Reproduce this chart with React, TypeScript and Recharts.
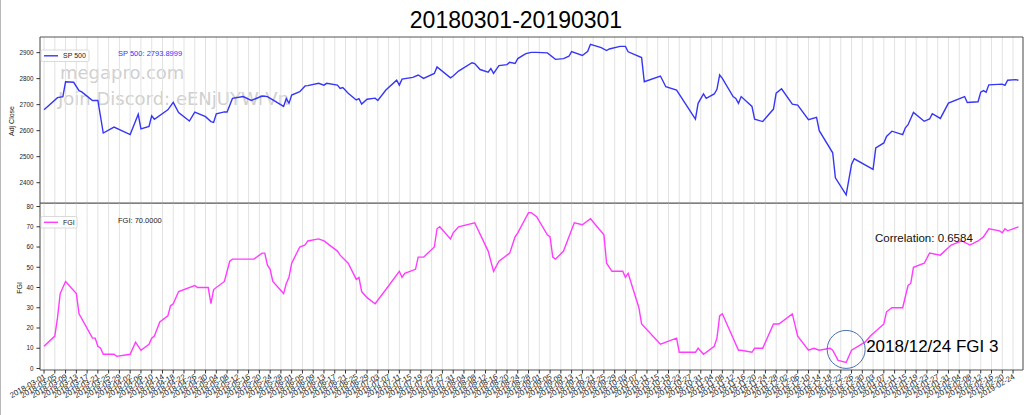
import React from 'react';
import { LineChart, Line, XAxis, YAxis, CartesianGrid, ReferenceDot, ReferenceArea } from 'recharts';

// S&P 500 adjusted close
const spDates = [
  '2018-03-01', '2018-03-06', '2018-03-08', '2018-03-09', '2018-03-12', '2018-03-14', '2018-03-15', '2018-03-19',
  '2018-03-21', '2018-03-23', '2018-03-27', '2018-04-02', '2018-04-05', '2018-04-06', '2018-04-09', '2018-04-10',
  '2018-04-11', '2018-04-16', '2018-04-18', '2018-04-20', '2018-04-24', '2018-04-26', '2018-04-30', '2018-05-02',
  '2018-05-03', '2018-05-04', '2018-05-07', '2018-05-08', '2018-05-10', '2018-05-14', '2018-05-17', '2018-05-21',
  '2018-05-23', '2018-05-25', '2018-05-29', '2018-05-30', '2018-05-31', '2018-06-01', '2018-06-04', '2018-06-06',
  '2018-06-07', '2018-06-11', '2018-06-13', '2018-06-14', '2018-06-18', '2018-06-19', '2018-06-20', '2018-06-22',
  '2018-06-25', '2018-06-26', '2018-06-27', '2018-06-29', '2018-07-02', '2018-07-03', '2018-07-06', '2018-07-10',
  '2018-07-11', '2018-07-12', '2018-07-16', '2018-07-18', '2018-07-20', '2018-07-24', '2018-07-25', '2018-07-30',
  '2018-07-31', '2018-08-02', '2018-08-07', '2018-08-08', '2018-08-10', '2018-08-13', '2018-08-14', '2018-08-15',
  '2018-08-17', '2018-08-20', '2018-08-21', '2018-08-23', '2018-08-24', '2018-08-27', '2018-08-29', '2018-08-31',
  '2018-09-04', '2018-09-07', '2018-09-10', '2018-09-12', '2018-09-13', '2018-09-17', '2018-09-19', '2018-09-20',
  '2018-09-24', '2018-09-26', '2018-09-27', '2018-10-01', '2018-10-03', '2018-10-04', '2018-10-09', '2018-10-10',
  '2018-10-16', '2018-10-18', '2018-10-22', '2018-10-29', '2018-10-30', '2018-11-01', '2018-11-02', '2018-11-05',
  '2018-11-06', '2018-11-07', '2018-11-08', '2018-11-12', '2018-11-13', '2018-11-14', '2018-11-15', '2018-11-19',
  '2018-11-20', '2018-11-23', '2018-11-27', '2018-11-28', '2018-11-30', '2018-12-04', '2018-12-06', '2018-12-10',
  '2018-12-13', '2018-12-14', '2018-12-19', '2018-12-20', '2018-12-24', '2018-12-26', '2018-12-27', '2019-01-03',
  '2019-01-04', '2019-01-07', '2019-01-08', '2019-01-10', '2019-01-14', '2019-01-15', '2019-01-16', '2019-01-18',
  '2019-01-22', '2019-01-24', '2019-01-25', '2019-01-28', '2019-01-31', '2019-02-06', '2019-02-07', '2019-02-11',
  '2019-02-12', '2019-02-13', '2019-02-14', '2019-02-15', '2019-02-20', '2019-02-21', '2019-02-22', '2019-02-25',
  '2019-02-26',
];
const spClose = [
  2680, 2727, 2731, 2788, 2786, 2754, 2749, 2716,
  2716, 2591, 2614, 2585, 2663, 2607, 2616, 2657,
  2644, 2680, 2709, 2670, 2637, 2671, 2654, 2635,
  2632, 2665, 2672, 2672, 2724, 2731, 2716, 2733,
  2731, 2718, 2693, 2724, 2705, 2737, 2750, 2772,
  2773, 2782, 2775, 2782, 2775, 2762, 2766, 2744,
  2718, 2723, 2702, 2721, 2725, 2716, 2756, 2794,
  2775, 2798, 2805, 2814, 2801, 2820, 2845, 2803,
  2810, 2829, 2861, 2858, 2835, 2825, 2839, 2820,
  2850, 2854, 2863, 2858, 2877, 2896, 2901, 2901,
  2899, 2874, 2877, 2886, 2904, 2889, 2905, 2932,
  2919, 2908, 2914, 2924, 2924, 2903, 2881, 2788,
  2810, 2769, 2756, 2644, 2705, 2741, 2724, 2741,
  2759, 2814, 2801, 2731, 2724, 2705, 2731, 2693,
  2644, 2635, 2683, 2744, 2761, 2702, 2698, 2642,
  2651, 2600, 2515, 2419, 2353, 2470, 2492, 2451,
  2534, 2553, 2578, 2598, 2585, 2611, 2623, 2670,
  2636, 2645, 2665, 2647, 2706, 2731, 2708, 2711,
  2748, 2754, 2748, 2776, 2779, 2774, 2794, 2796,
  2793.8999,
];

// Fear & Greed index
const fgiDates = [
  '2018-03-01', '2018-03-05', '2018-03-06', '2018-03-07', '2018-03-09', '2018-03-13', '2018-03-14', '2018-03-19',
  '2018-03-20', '2018-03-21', '2018-03-22', '2018-03-23', '2018-03-27', '2018-03-28', '2018-04-02', '2018-04-04',
  '2018-04-06', '2018-04-09', '2018-04-10', '2018-04-11', '2018-04-13', '2018-04-16', '2018-04-17', '2018-04-18',
  '2018-04-20', '2018-04-26', '2018-04-27', '2018-05-01', '2018-05-02', '2018-05-03', '2018-05-07', '2018-05-09',
  '2018-05-10', '2018-05-18', '2018-05-21', '2018-05-22', '2018-05-23', '2018-05-24', '2018-05-25', '2018-05-29',
  '2018-05-30', '2018-05-31', '2018-06-01', '2018-06-04', '2018-06-06', '2018-06-07', '2018-06-11', '2018-06-13',
  '2018-06-18', '2018-06-19', '2018-06-22', '2018-06-25', '2018-06-26', '2018-06-27', '2018-06-29', '2018-07-02',
  '2018-07-06', '2018-07-11', '2018-07-12', '2018-07-13', '2018-07-17', '2018-07-18', '2018-07-20', '2018-07-24',
  '2018-07-25', '2018-07-26', '2018-07-30', '2018-07-31', '2018-08-02', '2018-08-08', '2018-08-13', '2018-08-15',
  '2018-08-17', '2018-08-21', '2018-08-23', '2018-08-24', '2018-08-28', '2018-08-29', '2018-08-31', '2018-09-04',
  '2018-09-05', '2018-09-06', '2018-09-07', '2018-09-10', '2018-09-14', '2018-09-17', '2018-09-20', '2018-09-25',
  '2018-09-26', '2018-09-28', '2018-10-02', '2018-10-03', '2018-10-04', '2018-10-08', '2018-10-09', '2018-10-16',
  '2018-10-22', '2018-10-23', '2018-10-29', '2018-10-30', '2018-11-01', '2018-11-05', '2018-11-06', '2018-11-07',
  '2018-11-08', '2018-11-14', '2018-11-15', '2018-11-19', '2018-11-20', '2018-11-23', '2018-11-27', '2018-11-29',
  '2018-12-04', '2018-12-06', '2018-12-10', '2018-12-12', '2018-12-14', '2018-12-18', '2018-12-19', '2018-12-21',
  '2018-12-24', '2018-12-26', '2018-12-31', '2019-01-02', '2019-01-07', '2019-01-08', '2019-01-10', '2019-01-14',
  '2019-01-16', '2019-01-17', '2019-01-18', '2019-01-22', '2019-01-24', '2019-01-28', '2019-02-01', '2019-02-05',
  '2019-02-08', '2019-02-11', '2019-02-13', '2019-02-15', '2019-02-19', '2019-02-20', '2019-02-21', '2019-02-22',
  '2019-02-26',
];
const fgiValues = [
  11, 16, 25, 37, 43, 37, 27, 15,
  15, 11, 10, 7, 7, 6, 7, 13,
  9, 12, 15, 16, 23, 26, 31, 32,
  38, 41, 40, 40, 32, 39, 43, 53,
  54, 54, 57, 57, 51, 49, 43, 37,
  42, 45, 52, 60, 61, 63, 64, 63,
  58, 56, 52, 44, 45, 38, 35, 32,
  39, 48, 45, 47, 49, 55, 55, 60,
  69, 70, 64, 67, 70, 72, 58, 48,
  53, 57, 65, 67, 77, 77, 75, 66,
  65, 55, 54, 58, 72, 71, 74, 66,
  52, 48, 48, 45, 47, 30, 22, 12,
  15, 8, 8, 10, 7, 11, 15, 26,
  27, 9, 9, 8, 10, 10, 22, 22,
  27, 16, 9, 10, 9, 10, 9, 4,
  3, 9, 13, 16, 22, 28, 30, 30,
  41, 42, 50, 52, 57, 56, 61, 63,
  61, 63, 65, 69, 68, 67, 69, 68,
  70,
];

const title = '20180301-20190301';
const correlationText = 'Correlation: 0.6584';
const annotationDate = '2018-12-24';
const annotationFgi = 3;
const spTicks = [2400, 2500, 2600, 2700, 2800, 2900];
const fgiTicks = [0, 10, 20, 30, 40, 50, 60, 70, 80];

const START = Date.UTC(2018, 2, 1);
const DAY = 86400000;
const toDay = (s: string) => {
  const [y, m, d] = s.split('-').map(Number);
  return (Date.UTC(y, m - 1, d) - START) / DAY;
};
const toLabel = (day: number) => new Date(START + day * DAY).toISOString().slice(0, 10);

// a date tick every 4 days, 2018-03-01 .. 2019-02-24
const tickDays: number[] = [];
for (let d = 0; d <= toDay('2019-02-24'); d += 4) tickDays.push(d);

const spData = spDates.map((s, i) => ({ day: toDay(s), sp: spClose[i] }));
const fgiData = fgiDates.map((s, i) => ({ day: toDay(s), fgi: fgiValues[i] }));

const xDomain: [number, number] = [-1.5, 363.7];
const spDomain: [number, number] = [2322, 2960];
const fgiDomain: [number, number] = [-0.75, 81.75];
const FONT = '"Liberation Sans", Arial, sans-serif';
const SPINE = '#555';
const GRID = '#e2e2e2';
const SP_COLOR = '#3636f6';
const FGI_COLOR = '#ff3cff';

const DateTick = ({ x, y, payload }: any) => (
  <text
    x={x}
    y={y}
    transform={`rotate(-30 ${x} ${y})`}
    textAnchor="end"
    dy="0.55em"
    fontSize={7.8}
    fontFamily={FONT}
    fill="#222"
  >
    {toLabel(payload.value)}
  </text>
);

const NoTick = () => <g />;

const Annotation = ({ cx, cy }: any) => (
  <g>
    <circle cx={cx} cy={cy - 13} r={19} fill="none" stroke="#4470b0" strokeWidth={1} />
    <text x={cx + 20} y={cy - 10} fontSize={17} fontFamily={FONT} fill="#000">
      2018/12/24 FGI {annotationFgi}
    </text>
  </g>
);

const yTick = { fontSize: 6.3, fontFamily: FONT, fill: '#222' };

export default function App() {
  const lastSp = spClose[spClose.length - 1];
  const lastFgi = fgiValues[fgiValues.length - 1];

  return (
    <div style={{ position: 'absolute', left: 0, top: 0, width: 1034, height: 415, background: '#fff', overflow: 'hidden' }}>
      {/* watermark, beneath the lines */}
      <svg width={1034} height={415} style={{ position: 'absolute', left: 0, top: 0 }}>
        <line x1={0.5} y1={0} x2={0.5} y2={415} stroke="#b8b8b8" strokeWidth={1} />
        <g fontFamily='"DejaVu Sans", sans-serif' fontSize={18} fill="#d0d0d0">
          <text x={60} y={79}>megapro.com</text>
          <text x={58} y={105}>Join Discord: eENjUYWrVn</text>
        </g>
      </svg>

      <div style={{ position: 'absolute', left: 0, top: 0 }}>
        <LineChart width={1034} height={210} data={spData} margin={{ top: 37, right: 11, bottom: 6, left: 0 }}>
          <CartesianGrid horizontal={false} stroke={GRID} strokeWidth={1} />
          <XAxis
            type="number"
            dataKey="day"
            domain={xDomain}
            ticks={tickDays}
            interval={0}
            allowDataOverflow
            tick={<NoTick />}
            tickLine={false}
            axisLine={false}
            height={1}
          />
          <YAxis
            type="number"
            domain={spDomain}
            ticks={spTicks}
            allowDataOverflow
            width={40}
            tickSize={3.5}
            tickMargin={3}
            tick={yTick}
            tickLine={{ stroke: '#333' }}
            axisLine={false}
          />
          <Line
            type="linear"
            dataKey="sp"
            stroke={SP_COLOR}
            strokeWidth={1.4}
            dot={false}
            isAnimationActive={false}
          />
          <ReferenceArea
            x1={xDomain[0]}
            x2={xDomain[1]}
            y1={spDomain[0]}
            y2={spDomain[1]}
            fill="none"
            fillOpacity={0}
            stroke={SPINE}
            strokeWidth={1}
            ifOverflow="visible"
          />
        </LineChart>
      </div>

      <div style={{ position: 'absolute', left: 0, top: 203 }}>
        <LineChart width={1034} height={212} data={fgiData} margin={{ top: 0, right: 11, bottom: 0, left: 0 }}>
          <CartesianGrid horizontal={false} stroke={GRID} strokeWidth={1} />
          <XAxis
            type="number"
            dataKey="day"
            domain={xDomain}
            ticks={tickDays}
            interval={0}
            allowDataOverflow
            height={45}
            tickSize={3.5}
            tickMargin={1}
            tick={<DateTick />}
            tickLine={{ stroke: '#333' }}
            axisLine={false}
          />
          <YAxis
            type="number"
            domain={fgiDomain}
            ticks={fgiTicks}
            allowDataOverflow
            width={40}
            tickSize={3.5}
            tickMargin={3}
            tick={yTick}
            tickLine={{ stroke: '#333' }}
            axisLine={false}
          />
          <Line
            type="linear"
            dataKey="fgi"
            stroke={FGI_COLOR}
            strokeWidth={1.4}
            dot={false}
            isAnimationActive={false}
          />
          <ReferenceArea
            x1={xDomain[0]}
            x2={xDomain[1]}
            y1={fgiDomain[0]}
            y2={fgiDomain[1]}
            fill="none"
            fillOpacity={0}
            stroke={SPINE}
            strokeWidth={1}
            ifOverflow="visible"
          />
          <ReferenceDot x={toDay(annotationDate)} y={annotationFgi} shape={<Annotation />} />
        </LineChart>
      </div>

      {/* texts and legends above everything */}
      <svg width={1034} height={415} style={{ position: 'absolute', left: 0, top: 0, pointerEvents: 'none' }} fontFamily={FONT}>
        <text x={516} y={28} textAnchor="middle" fontSize={23} fill="#000">{title}</text>

        <text transform="translate(13.5 121) rotate(-90)" textAnchor="middle" fontSize={7} fill="#222">Adj Close</text>
        <text transform="translate(22 288) rotate(-90)" textAnchor="middle" fontSize={7} fill="#222">FGI</text>

        <rect x={41} y={50} width={48} height={11.5} rx={1.5} fill="#fff" fillOpacity={0.85} stroke="#d0d0d0" strokeWidth={0.8} />
        <line x1={44} y1={55.8} x2={58} y2={55.8} stroke={SP_COLOR} strokeWidth={1.4} />
        <text x={63} y={58.3} fontSize={7} fill="#222">SP 500</text>
        <text x={118} y={56} fontSize={7.5} fill="#3333ff">SP 500: {lastSp.toFixed(4)}</text>

        <rect x={41} y={216.5} width={36} height={11.5} rx={1.5} fill="#fff" fillOpacity={0.85} stroke="#d0d0d0" strokeWidth={0.8} />
        <line x1={44} y1={222.3} x2={58} y2={222.3} stroke={FGI_COLOR} strokeWidth={1.4} />
        <text x={63} y={224.8} fontSize={7} fill="#222">FGI</text>
        <text x={118} y={222.5} fontSize={7.5} fill="#222">FGI: {lastFgi.toFixed(4)}</text>

        <text x={875} y={242} fontSize={11.5} fill="#111">{correlationText}</text>
      </svg>
    </div>
  );
}
